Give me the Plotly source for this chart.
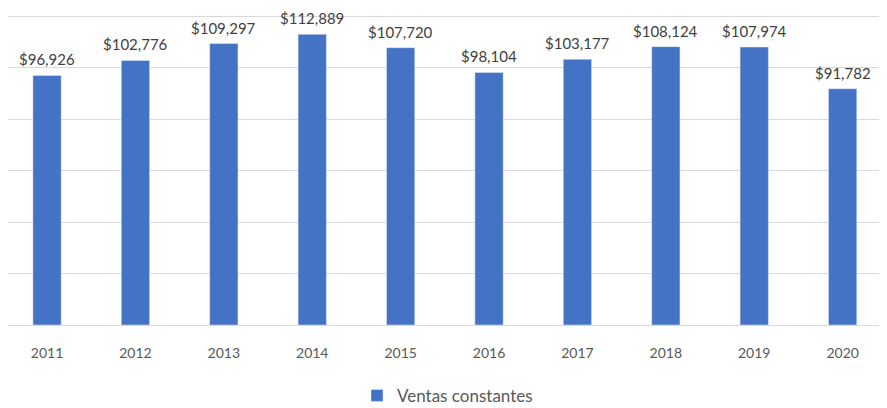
import plotly.graph_objects as go

years = ["2011", "2012", "2013", "2014", "2015", "2016", "2017", "2018", "2019", "2020"]
ventas = [96926, 102776, 109297, 112889, 107720, 98104, 103177, 108124, 107974, 91782]
labels = ["$96,926", "$102,776", "$109,297", "$112,889", "$107,720", "$98,104",
          "$103,177", "$108,124", "$107,974", "$91,782"]

fig = go.Figure()
fig.add_trace(go.Bar(
    x=years, y=ventas, name="Ventas constantes",
    marker=dict(color="#4472C4"), width=0.32,
))

for i, (v, lab) in enumerate(zip(ventas, labels)):
    fig.add_annotation(x=i, y=v, xref="x", yref="y", text=lab, showarrow=False,
                       yanchor="bottom", yshift=6, borderpad=0,
                       font=dict(size=15, color="#404040", family="Lato"))

# page has an 8px body margin; figure sized to fit the 887x408 window
fig.update_layout(
    width=879, height=400,
    margin=dict(l=0, r=0, t=6, b=83, autoexpand=False),
    paper_bgcolor="white", plot_bgcolor="white",
    showlegend=True,
    legend=dict(orientation="h", x=0.5, xanchor="center", y=-0.17, yanchor="top",
                font=dict(size=17, color="#595959", family="Lato"),
                itemwidth=30),
    xaxis=dict(type="category", showline=True, linecolor="#d9d9d9", linewidth=1,
               automargin=False, range=[-0.4417, 9.502],
               tickfont=dict(size=14, color="#595959", family="Lato"),
               ticks="", ticklabelstandoff=15),
    yaxis=dict(range=[0, 120800], tick0=0, dtick=20000, showticklabels=False,
               automargin=False, showgrid=True, gridcolor="#d9d9d9", gridwidth=1,
               zeroline=False),
)

fig.write_html("out.html")
